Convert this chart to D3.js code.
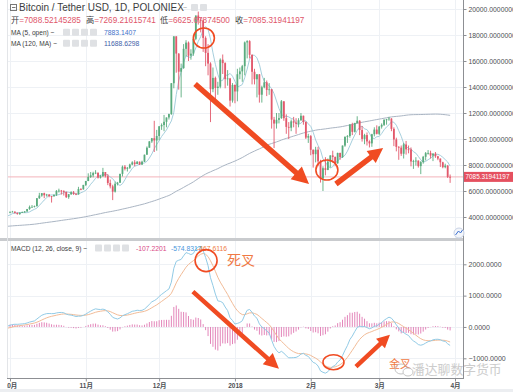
<!DOCTYPE html>
<html><head><meta charset="utf-8">
<script src="https://cdn.jsdelivr.net/npm/d3@7"></script>
<style>
body{margin:0;background:#fff;}
svg{display:block;font-family:"Liberation Sans",Arial,"Noto Sans CJK SC",sans-serif;}
</style>
</head><body>
<svg id="c" width="513" height="392"></svg>
<script>
// ---------------- DATA ----------------
// daily closes before the visible range (2017-06-01 .. 2017-09-30), used for MA120 / MACD warm-up
const priorCloses = [
 2408,2478,2515,2512,2685,2863,2732,2805,2824,2947,2958,2659,2717,2506,2464,2518,2656,2549,2590,2721,2689,2706,2710,2589,2589,2478,2576,2559,2539,2480,
 2434,2506,2564,2601,2601,2608,2518,2571,2518,2373,2334,2398,2357,2233,1998,1929,2229,2318,2273,2817,2667,2810,2730,2754,2576,2529,2671,2809,2726,2757,2875,
 2718,2710,2804,2895,3252,3213,3378,3419,3342,3381,3650,3884,4073,4325,4182,4376,4331,4160,4193,4087,4001,4100,4151,4334,4371,4352,4382,4382,4579,4565,4703,
 4892,4578,4582,4236,4376,4597,4599,4228,4226,4122,4161,4130,3882,3154,3637,3625,3583,4065,3924,3906,3631,3631,3779,3660,3927,3892,4208,4185,4166,4338
];
const firstDay = "2017-10-01";
// OHLC 2017-10-01 .. 2018-03-30
const opens = [
 4338,4403,4409,4317,4229,4328,4370,4426,4611,4772,4781,4826,5446,5647,5831,5678,5725,5605,5590,5708,6011,6031,6008,5930,5526,5750,5904,5780,5753,6153,6130,
 6468,6767,7078,7207,7379,7407,7022,7144,7459,7143,6618,6357,5950,6559,6635,7315,7871,7708,7790,8036,8200,8071,8253,8038,8253,8790,9330,9818,10058,9888,
 10233,10975,11074,11323,11657,11916,14291,17899,16570,15178,15455,16936,17415,16408,16564,17706,19498,19140,19114,17776,16624,15802,13831,14699,13925,14026,16099,15838,14606,14656,12952,
 14156,13657,14982,15201,15599,17429,17527,16477,15170,14595,14973,13405,13980,14360,13772,13819,11490,11188,11474,11607,12899,11600,10931,10868,11359,11259,11171,11441,11787,11306,10107,
 10221,9170,8830,9175,8277,6955,7754,7621,8265,8736,8621,8129,8926,8598,9494,10166,10233,11112,10551,11225,11403,10690,10005,10301,9813,9664,10366,10725,
 10397,10951,11086,11489,11512,11573,10779,9965,9395,9337,8866,9578,9205,9194,8269,8300,8338,7916,8223,8630,8913,8929,8728,8879,8668,8495,8209,7833,7954,7088
];
const highs = [
 4410,4470,4432,4350,4358,4420,4460,4620,4880,4920,4880,5450,5860,5840,5870,5780,5760,5620,5730,6070,6180,6080,6050,5950,5770,5980,6000,5860,6320,6220,6470,
 6780,7360,7460,7480,7600,7420,7230,7780,7460,7300,6880,6480,6720,6700,7330,7960,8000,7850,8100,8290,8370,8300,8270,8330,8800,9430,9830,10080,11400,10700,
 11000,11200,11850,11650,11950,14300,17900,17900,16600,15800,17300,17600,17500,16900,17900,19500,19800,19300,19200,17900,17300,15900,15500,14800,14400,16200,16500,15900,15300,14700,14300,
 14200,15400,15500,15700,17500,17600,17600,16500,15400,15000,15000,14100,14700,14500,14300,13850,11700,12000,12000,13000,12900,11900,11300,11500,11700,11600,11600,12000,11800,11350,10400,
 10300,9200,9400,9400,8400,7900,8600,8500,8750,9100,8650,8950,8950,9500,10200,10300,11150,11250,11250,11750,11450,11000,10400,10500,9900,10400,10900,11050,
 11000,11200,11500,11550,11700,11600,10900,10100,9450,9500,9700,9850,9500,9350,8400,8600,8350,8300,8700,9000,9150,9100,8900,9000,8700,8500,8250,8100,7990,7269
];
const lows = [
 4290,4375,4262,4180,4160,4310,4320,4400,4550,4730,4740,4820,5390,5560,5450,5570,5520,5110,5570,5620,5880,5730,5650,5460,5400,5700,5700,5680,5720,6060,6100,
 6380,6760,7000,7050,7300,6960,6960,7080,7040,6450,6200,5300,5880,6430,6630,7120,7580,7500,7700,7980,7900,8070,8000,8000,8230,8790,9330,9700,9000,9100,
 9900,10700,10600,10900,11500,11860,13900,15100,13800,13200,15400,16350,16000,16100,16400,17600,18800,18200,16700,15600,14900,11300,13600,12800,13400,13900,15000,13900,14100,12500,12800,
 12750,12900,14600,14400,14900,16200,16200,14200,14200,13200,12800,12800,13900,13300,13400,10800,9300,10800,11200,11550,11400,10400,10000,10600,10900,10400,10900,11400,11100,10000,9700,
 8750,7800,8200,7900,6650,6000,7200,7600,7800,8200,7900,8100,8400,8550,9400,9700,10100,10300,10500,11200,10300,9800,9600,9500,9350,9400,10200,10350,
 10300,10800,11000,11100,11400,10600,9450,9050,8400,8700,8500,8800,8900,7900,7700,7950,7800,7300,8100,8350,8800,8500,8300,8550,8370,7850,7750,7750,7000,6626
];
const closes = [
 4403,4409,4317,4229,4328,4370,4426,4611,4772,4781,4826,5446,5647,5831,5678,5725,5605,5590,5708,6011,6031,6008,5930,5526,5750,5904,5780,5753,6153,6130,6468,
 6767,7078,7207,7379,7407,7022,7144,7459,7143,6618,6357,5950,6559,6635,7315,7871,7708,7790,8036,8200,8071,8253,8038,8253,8790,9330,9818,10058,9888,10233,
 10975,11074,11323,11657,11916,14291,17899,16570,15178,15455,16936,17415,16408,16564,17706,19498,19140,19114,17776,16624,15802,13831,14699,13925,14026,16099,15838,14606,14656,12952,14156,
 13657,14982,15201,15599,17429,17527,16477,15170,14595,14973,13405,13980,14360,13772,13819,11490,11188,11474,11607,12899,11600,10931,10868,11359,11259,11171,11441,11787,11306,10107,10221,
 9170,8830,9175,8277,6955,7754,7621,8265,8736,8621,8129,8926,8598,9494,10166,10233,11112,10551,11225,11403,10690,10005,10301,9813,9664,10366,10725,10397,
 10951,11086,11489,11512,11573,10779,9965,9395,9337,8866,9578,9205,9194,8269,8300,8338,7916,8223,8630,8913,8929,8728,8879,8668,8495,8209,7833,7954,7088,7085
];
const monthTicks = ["2017-10-01","2017-11-01","2017-12-01","2018-01-01","2018-02-01","2018-03-01","2018-04-01"];
const monthLabels = ["10月","11月","12月","2018","2月","3月","4月"];
const priceTicks = [4000,6000,8000,10000,12000,14000,16000,18000,20000];
const macdTicks = [-1000,0,1000,2000];
const titleText = "Bitcoin / Tether USD, 1D, POLONIEX";
const ohlcLabels = ["开","高","低","收"];
const ohlcValues = ["7088.52145285","7269.21615741","6625.67874500","7085.31941197"];
const maNames = ["MA (5, open)","MA (120, MA)"];
const maValues = ["7883.1407","11688.6298"];
const macdName = "MACD (12, 26, close, 9)";
const macdValues = ["-107.2201","-574.8317","-467.6116"];
const lastPriceLabel = "7085.31941197";
// annotations anchored in data coordinates: [day offset from firstDay, value]
const priceCircles = [[79.3,17770],[129.6,7615]];
const priceArrows = [[75.7,14230,122.3,6540],[133.3,6540,152.6,9310]];
const macdCircles = [[80.2,2118],[132.3,-1125]];
const macdArrows = [[74.8,1128,110,-1332],[141.5,-1268,155.4,-246]];
const crossLabels = [{text:"死叉",day:88.8,v:1990,size:14},{text:"金叉",day:155,v:-1300,size:11}];
const watermark = "潘达聊数字货币";

// ---------------- SETUP ----------------
const svg = d3.select("#c");
const DAY = 864e5;
const parse = d3.utcParse("%Y-%m-%d");
const t0 = parse(firstDay).getTime();
const L = 7, R = 463, pTop = 0, pBot = 238, mTop = 241, mBot = 378;

const x = d3.scaleUtc().domain([parse("2017-10-01"), parse("2018-04-01")]).range([10, 455]);
const xd = d => x(new Date(t0 + d*DAY));
const y = d3.scaleLinear().domain([4000,20000]).range([217,9]);
const ym = d3.scaleLinear().domain([-1000,2000]).range([358.3,264.3]);

const candles = closes.map((c,i)=>({date:new Date(t0+i*DAY),o:opens[i],h:highs[i],l:lows[i],c}));
// extended series starting 2017-06-02
const extClose = priorCloses.slice(1).concat(closes);
const extOpen = priorCloses.slice(0,-1).concat(opens);
const nPrior = priorCloses.length - 1;
const extDate = j => new Date(t0 + (j - nPrior)*DAY);

function sma(a,n){return a.map((v,i)=> i<n-1||v==null ? null : d3.mean(a.slice(i-n+1,i+1)));}
function ema(a,n){
  const out=a.map(()=>null); const k=2/(n+1);
  let s=a.findIndex(v=>v!=null); if(s<0) return out;
  const seed=s+n-1; if(seed>=a.length) return out;
  out[seed]=d3.mean(a.slice(s,seed+1));
  for(let i=seed+1;i<a.length;i++) out[i]=a[i]*k+out[i-1]*(1-k);
  return out;
}
const ma5 = sma(extOpen,5);
const ma120 = sma(extClose,120);
const e12 = ema(extClose,12), e26 = ema(extClose,26);
const macd = extClose.map((_,i)=> e12[i]!=null&&e26[i]!=null ? e12[i]-e26[i] : null);
const signal = ema(macd,9);
const hist = macd.map((m,i)=> m!=null&&signal[i]!=null ? m-signal[i] : null);
const startJ = nPrior - 1; // from 2017-09-30

const defs = svg.append("defs");
defs.append("clipPath").attr("id","cp").append("rect").attr("x",L).attr("y",pTop).attr("width",R-L).attr("height",pBot-pTop);
defs.append("clipPath").attr("id","cm").append("rect").attr("x",L).attr("y",mTop).attr("width",R-L).attr("height",mBot-mTop);
defs.append("clipPath").attr("id","cx").append("rect").attr("x",L).attr("y",mBot).attr("width",513-L).attr("height",20);

// grid
const grid = svg.append("g").attr("stroke","#eef1f5").attr("stroke-width",1);
const mDates = monthTicks.map(parse);
mDates.forEach(d=>{
  const xx = Math.round(x(d))+0.5;
  if (xx>L && xx<R){
    grid.append("line").attr("x1",xx).attr("x2",xx).attr("y1",pTop).attr("y2",pBot);
    grid.append("line").attr("x1",xx).attr("x2",xx).attr("y1",mTop).attr("y2",mBot);
  }
});
priceTicks.forEach(v=>{const yy=Math.round(y(v))+0.5; grid.append("line").attr("x1",L).attr("x2",R).attr("y1",yy).attr("y2",yy);});
macdTicks.forEach(v=>{const yy=Math.round(ym(v))+0.5; grid.append("line").attr("x1",L).attr("x2",R).attr("y1",yy).attr("y2",yy);});

// ---------------- PRICE PANEL ----------------
const gp = svg.append("g").attr("clip-path","url(#cp)");
gp.append("line").attr("x1",L).attr("x2",R).attr("y1",y(closes[closes.length-1])).attr("y2",y(closes[closes.length-1]))
  .attr("stroke","#f3b3ba").attr("stroke-width",1);
const lineP = d3.line().defined(d=>d.v!=null).x(d=>x(d.d)).y(d=>y(d.v));
const ma120pts = ma120.map((v,j)=>({d:extDate(j),v})).filter((_,j)=>j>=startJ);
const ma5pts = ma5.map((v,j)=>({d:extDate(j),v})).filter((_,j)=>j>=startJ);
gp.append("path").attr("d",lineP(ma120pts)).attr("fill","none").attr("stroke","#aab5c3").attr("stroke-width",1);
gp.append("path").attr("d",lineP(ma5pts)).attr("fill","none").attr("stroke","#a6cfdd").attr("stroke-width",1);
const up="#5aab7e", dn="#e2586b";
const cg = gp.append("g");
cg.selectAll("line").data(candles).join("line")
  .attr("x1",d=>x(d.date)).attr("x2",d=>x(d.date)).attr("y1",d=>y(d.h)).attr("y2",d=>y(d.l))
  .attr("stroke",d=>d.c>=d.o?up:dn).attr("stroke-width",0.9);
cg.selectAll("rect").data(candles).join("rect")
  .attr("x",d=>x(d.date)-0.9).attr("width",1.8)
  .attr("y",d=>y(Math.max(d.o,d.c))).attr("height",d=>Math.max(0.8,Math.abs(y(d.o)-y(d.c))))
  .attr("fill",d=>d.c>=d.o?up:dn);

// ---------------- MACD PANEL ----------------
const gm = svg.append("g").attr("clip-path","url(#cm)");
const hpts = hist.map((v,j)=>({d:extDate(j),v})).filter((p,j)=>j>=startJ && p.v!=null);
gm.selectAll("line.h").data(hpts).join("line").attr("class","h")
  .attr("x1",d=>x(d.d)).attr("x2",d=>x(d.d)).attr("y1",ym(0)).attr("y2",d=>ym(d.v))
  .attr("stroke","#e386ba").attr("stroke-width",1);
const lineM = d3.line().defined(d=>d.v!=null).x(d=>x(d.d)).y(d=>ym(d.v));
gm.append("path").attr("d",lineM(signal.map((v,j)=>({d:extDate(j),v})).filter((_,j)=>j>=startJ)))
  .attr("fill","none").attr("stroke","#f2bc98").attr("stroke-width",1);
gm.append("path").attr("d",lineM(macd.map((v,j)=>({d:extDate(j),v})).filter((_,j)=>j>=startJ)))
  .attr("fill","none").attr("stroke","#92cbe6").attr("stroke-width",1);

// ---------------- FRAME & AXES ----------------
svg.append("rect").attr("x",0).attr("y",pBot).attr("width",R).attr("height",mTop-pBot).attr("fill","#c9cbce");
svg.append("line").attr("x1",L+0.5).attr("x2",L+0.5).attr("y1",0).attr("y2",mBot).attr("stroke","#e3e5e8");
svg.append("line").attr("x1",R+0.5).attr("x2",R+0.5).attr("y1",0).attr("y2",mBot+1).attr("stroke","#8d8f93");
svg.append("line").attr("x1",L).attr("x2",R+1).attr("y1",mBot+0.5).attr("y2",mBot+0.5).attr("stroke","#8d8f93");
svg.append("rect").attr("x",0).attr("y",389).attr("width",513).attr("height",3).attr("fill","#eceef1");

function styleAxis(g){
  g.select(".domain").remove();
  g.selectAll(".tick line").attr("stroke","#8d8f93");
  g.selectAll("text").attr("fill","#4d4f53").attr("font-family","Liberation Sans, Arial, sans-serif");
}
const ay = svg.append("g").attr("transform",`translate(${R+0.5},0)`)
  .call(d3.axisRight(y).tickValues(priceTicks).tickFormat(d3.format(".8f")).tickSize(3).tickPadding(2));
styleAxis(ay); ay.selectAll("text").attr("font-size",6.8);
const aym = svg.append("g").attr("transform",`translate(${R+0.5},0)`)
  .call(d3.axisRight(ym).tickValues(macdTicks).tickFormat(d3.format(".4f")).tickSize(3).tickPadding(2));
styleAxis(aym); aym.selectAll("text").attr("font-size",7);
const ax = svg.append("g").attr("clip-path","url(#cx)").append("g").attr("transform",`translate(0,${mBot+0.5})`)
  .call(d3.axisBottom(x).tickValues(mDates).tickFormat((d,i)=>monthLabels[i]).tickSize(3).tickPadding(2));
styleAxis(ax); ax.selectAll("text").attr("font-size",6.5).attr("font-weight","bold")
  .attr("font-family","Liberation Sans, 'Noto Sans CJK SC', sans-serif");

// last price tag
const lp = y(closes[closes.length-1]);
svg.append("rect").attr("x",R+1).attr("y",lp-5).attr("width",513-R).attr("height",10).attr("fill","#e5505f");
svg.append("text").attr("x",R+2.5).attr("y",lp+2.3).attr("font-size",6.4).attr("fill","#fff").text(lastPriceLabel);

// ---------------- LEGENDS ----------------
const cjk = "Liberation Sans, 'Noto Sans CJK SC', sans-serif";
function icons(g,x0,yc,n){
  for(let i=0;i<n;i++) g.append("rect").attr("x",x0+i*9).attr("y",yc-3.5).attr("width",7).attr("height",7).attr("rx",1).attr("fill","#dfe1e4");
}
const lg = svg.append("g");
lg.append("rect").attr("x",10.5).attr("y",4.5).attr("width",6).attr("height",6).attr("fill","none").attr("stroke","#777");
lg.append("line").attr("x1",12).attr("x2",15.5).attr("y1",7.5).attr("y2",7.5).attr("stroke","#777");
lg.append("text").attr("x",19).attr("y",11).attr("font-size",10).attr("fill","#3b3d40").text(titleText);
lg.append("text").attr("x",183).attr("y",10).attr("font-size",7).attr("fill","#999").text("~");
icons(lg,191,7.5,2);
const ohlcX = [11,86,160,235];
ohlcLabels.forEach((lab,i)=>{
  const t = lg.append("text").attr("x",ohlcX[i]).attr("y",23).attr("font-size",8.2).attr("font-family",cjk);
  t.append("tspan").attr("fill","#3b3d40").text(lab);
  t.append("tspan").attr("fill","#e0566a").text("="+ohlcValues[i]);
});
maNames.forEach((n,i)=>{
  const yy = 34.5 + i*11;
  lg.append("text").attr("x",11).attr("y",yy).attr("font-size",6.6).attr("fill","#3b3d40").text(n+"  ~");
  icons(lg,63,yy-2.3,4);
  lg.append("text").attr("x",104).attr("y",yy).attr("font-size",6.8).attr("fill",i? "#3e5ea8":"#3f72c9").text(maValues[i]);
});
lg.append("text").attr("x",11).attr("y",250.5).attr("font-size",6.6).attr("fill","#3b3d40").text(macdName+"  ~");
icons(lg,95,248,4);
const mvX=[136,171,197], mvC=["#d94a86","#4a97dc","#ef7c43"];
macdValues.forEach((v,i)=>lg.append("text").attr("x",mvX[i]).attr("y",250.5).attr("font-size",6.8).attr("fill",mvC[i]).text(v));
svg.append("circle").attr("cx",459).attr("cy",233).attr("r",5).attr("fill","#f4f6fa").attr("stroke","#c9d3e6");
svg.append("path").attr("d","M455.5,235 l3,-4 l2,2 l2,-3").attr("fill","none").attr("stroke","#3a6fd1").attr("stroke-width",1);

// ---------------- ANNOTATIONS ----------------
const red = "#f04b22";
function arrow(g,x1,y1,x2,y2,sw,hl,hw){
  const dx=x2-x1, dy=y2-y1, Ln=Math.hypot(dx,dy), ux=dx/Ln, uy=dy/Ln, px=-uy, py=ux;
  const bx=x2-ux*hl, by=y2-uy*hl;
  const pts=[[x1+px*sw/2,y1+py*sw/2],[bx+px*sw/2,by+py*sw/2],[bx+px*hw/2,by+py*hw/2],[x2,y2],
             [bx-px*hw/2,by-py*hw/2],[bx-px*sw/2,by-py*sw/2],[x1-px*sw/2,y1-py*sw/2]];
  g.append("polygon").attr("points",pts.map(p=>p.join(",")).join(" ")).attr("fill",red);
}
const an = svg.append("g");
priceArrows.forEach((a,i)=>arrow(an,xd(a[0]),y(a[1]),xd(a[2]),y(a[3]),5.5,i?15:17,i?15:17));
priceCircles.forEach((c,i)=>an.append("ellipse").attr("cx",xd(c[0])).attr("cy",y(c[1])).attr("rx",i?11:10.5).attr("ry",10)
  .attr("fill","none").attr("stroke",red).attr("stroke-width",1.6));
macdArrows.forEach((a,i)=>arrow(an,xd(a[0]),ym(a[1]),xd(a[2]),ym(a[3]),4.5,i?13:15,i?13:15));
macdCircles.forEach((c,i)=>an.append("ellipse").attr("cx",xd(c[0])).attr("cy",ym(c[1])).attr("rx",i?10.5:11).attr("ry",i?7.5:11)
  .attr("fill","none").attr("stroke",red).attr("stroke-width",1.6));
crossLabels.forEach(c=>an.append("text").attr("x",xd(c.day)).attr("y",ym(c.v)).attr("font-size",c.size)
  .attr("font-family","'Noto Sans CJK SC', sans-serif").attr("fill","#f07a45").text(c.text));
const wm = svg.append("g").attr("opacity",0.85);
wm.append("ellipse").attr("cx",401).attr("cy",369).attr("rx",6).attr("ry",5).attr("fill","none").attr("stroke","#bbb").attr("stroke-width",1);
wm.append("ellipse").attr("cx",408).attr("cy",372).attr("rx",5).attr("ry",4).attr("fill","#fff").attr("stroke","#bbb").attr("stroke-width",1);
wm.append("text").attr("x",412).attr("y",374).attr("font-size",12.8).attr("font-family","'Noto Sans CJK SC', sans-serif")
  .attr("fill","#c4c4c4").text(watermark);
</script>
</body></html>
